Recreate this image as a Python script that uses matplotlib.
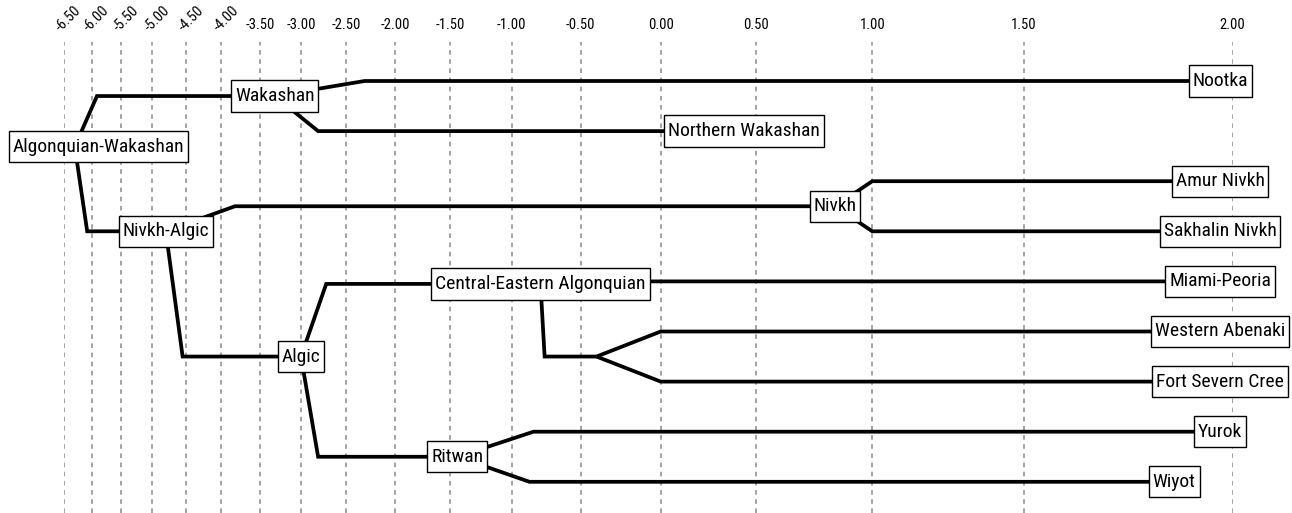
import numpy as np
import matplotlib
matplotlib.use("Agg")
import matplotlib.pyplot as plt
from matplotlib import font_manager
from matplotlib.transforms import ScaledTranslation

# axis ticks and where the reference puts them (the axis is warped)
tick_dates = [-6.5, -6.0, -5.5, -5.0, -4.5, -4.0, -3.5, -3.0, -2.5, -2.0,
              -1.5, -1.0, -0.5, 0.0, 0.5, 1.0, 1.5, 2.0]
tick_px = [63.5, 91.7, 121.0, 152.3, 186.0, 220.8, 260.0, 301.0, 346.0, 395.0,
           450.0, 511.5, 580.5, 660.7, 755.7, 872.3, 1023.7, 1232.7]
tick_labels = [f"{d:.2f}" for d in tick_dates]

# tree nodes
names = ["Algonquian-Wakashan", "Wakashan", "Nootka", "Northern Wakashan",
         "Nivkh-Algic", "Nivkh", "Amur Nivkh", "Sakhalin Nivkh", "Algic",
         "Central-Eastern Algonquian", "", "Miami-Peoria", "Western Abenaki",
         "Fort Severn Cree", "Ritwan", "Yurok", "Wiyot"]
dates = [-6.30, -3.32, 1.97, 0.44, -4.80, 0.84, 1.97, 1.97, -3.0,
         -0.79, -0.40, 1.97, 1.97, 1.97, -1.44, 1.97, 1.86]
rows = [1.31, 0.3, 0, 1, 3, 2.5, 2, 3, 5.5, 4.05, 5.5, 4, 5, 6, 7.5, 7, 8]
parents = [None, 0, 1, 1, 0, 4, 5, 5, 4, 8, 9, 9, 10, 10, 8, 14, 14]
bends = [None, -5.91, -2.31, -2.81, -6.08, -3.82, 1.0, 1.0, -4.55,
         -2.72, -0.76, -0.2, 0.0, 0.0, -2.81, -0.84, -0.87]

# look for a narrow face, the reference uses a condensed font
have = {(f.name, f.stretch) for f in font_manager.fontManager.ttflist}
have_names = {n for n, _ in have}
choices = [
    ("Liberation Sans Narrow", "normal", 13.5, 10.5),
    ("Roboto Condensed", "normal", 14, 10.5),
    ("Open Sans Condensed", "normal", 14, 10.5),
    ("Noto Sans", "condensed", 14, 10.5),
    ("Open Sans", "condensed", 14, 10.5),
    ("DejaVu Sans", "condensed", 12.5, 9.5),
]
fam, stretch, node_fs, tick_fs = "DejaVu Sans", "normal", 12, 9
for n, st, fs1, fs2 in choices:
    if (st == "normal" and n in have_names) or (n, st) in have:
        fam, stretch, node_fs, tick_fs = n, st, fs1, fs2
        break

plt.rcParams["font.family"] = [fam, "DejaVu Sans"]
plt.rcParams["font.stretch"] = stretch

W, H = 1292, 513
fig = plt.figure(figsize=(W / 100, H / 100), dpi=100)
ax_top = 42
ax = fig.add_axes([tick_px[0] / W, 0, (tick_px[-1] - tick_px[0]) / W, (H - ax_top) / H])


def fwd(x):
    return np.interp(x, tick_dates, tick_px)


def inv(p):
    return np.interp(p, tick_px, tick_dates)


ax.set_xscale("function", functions=(fwd, inv))
ax.set_xlim(tick_dates[0], tick_dates[-1])

row_px = 50.1
row0_px = 81
ax.set_ylim((H - row0_px) / row_px, (ax_top - row0_px) / row_px)

for s in ax.spines.values():
    s.set_visible(False)
ax.set_yticks([])
ax.xaxis.tick_top()
ax.set_xticks(tick_dates)
ax.set_xticklabels(tick_labels, fontsize=tick_fs)
ax.tick_params(axis="x", length=0, pad=7)
shift = ScaledTranslation(0.05, -0.02, fig.dpi_scale_trans)
for lab in ax.get_xticklabels()[:6]:
    lab.set_rotation(45)
    lab.set_ha("center")
    lab.set_va("bottom")
    lab.set_transform(lab.get_transform() + shift)

ax.grid(True, axis="x", color="#8a8a8a", linestyle=(0, (3, 3)), linewidth=1.1)
ax.set_axisbelow(True)

# branches
for i, p in enumerate(parents):
    if p is None:
        continue
    ax.plot([dates[p], bends[i], dates[i]], [rows[p], rows[i], rows[i]],
            color="black", lw=2.7, solid_joinstyle="miter", solid_capstyle="butt",
            zorder=2, clip_on=False)

box = dict(boxstyle="square,pad=0.2", mutation_aspect=1.7,
           fc="white", ec="black", lw=1)
for i, name in enumerate(names):
    if not name:
        continue
    dx = 17 if parents[i] is None else 0
    ax.annotate(name, xy=(dates[i], rows[i]), xytext=(dx, 0), textcoords="offset points",
                ha="center", va="center", fontsize=node_fs, bbox=box, zorder=3,
                annotation_clip=False)

fig.savefig("out.png", dpi=100)
